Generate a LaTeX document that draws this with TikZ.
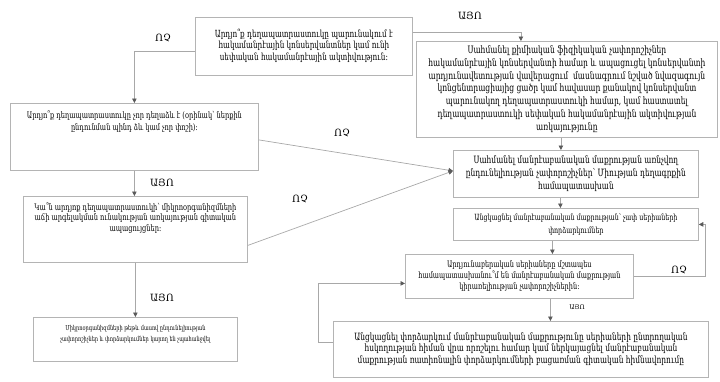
\documentclass[tikz,border=0pt]{standalone}
\usepackage{fontspec}
\usepackage{graphicx}
\setmainfont{DejaVu Serif}
\newfontfamily\armfont[FakeStretch=0.74]{DejaVu Serif}
\newfontfamily\labfont{DejaVu Serif}
\usetikzlibrary{arrows.meta}
\definecolor{boxgray}{HTML}{B4B4B4}
\definecolor{linegray}{HTML}{A8A8A8}
\definecolor{arrowgray}{HTML}{5A5A5A}
\tikzset{
  box/.style={draw=boxgray, line width=0.8pt, anchor=north west, inner sep=0pt, font=\armfont},
  conn/.style={draw=linegray, line width=0.7pt, -{Triangle[length=4.5pt,width=4.5pt,color=arrowgray]}},
  lab/.style={font=\labfont\fontsize{10}{12}\selectfont, inner sep=0pt},
}
% \fitw{width}{baselineskip}{lines}
\newcommand{\fitw}[3]{\resizebox{#1}{!}{\fontsize{10}{#2}\selectfont\begin{tabular}{@{}c@{}}#3\end{tabular}}}
% \tbox{width}{height}{top pad}{content}
\newcommand{\tbox}[4]{\parbox[c][#2][t]{#1}{\centering\vspace*{#3}#4\par}}
\begin{document}
\begin{tikzpicture}[x=1pt,y=-1pt]
\useasboundingbox (0,0) rectangle (720,381);
% boxes
\node[box, minimum width=217pt, minimum height=58pt] (b1) at (195,17)
  {\fitw{178pt}{11.5pt}{Արդյո՞ք դեղապատրաստուկը պարունակում է\\ հակամանրէային կոնսերվանտներ կամ ունի\\ սեփական հակամանրէային ակտիվություն:}};
\node[box, minimum width=301pt, minimum height=96pt] (b3) at (416,41)
  {\fitw{277pt}{12.5pt}{Սահմանել քիմիական ֆիզիկական չափորոշիչներ\\ հակամանրէային կոնսերվանտի համար և ապացուցել կոնսերվանտի\\ արդյունավետության վավերացում\ \ մասնագրում նշված նվազագույն\\ կոնցենտրացիայից ցածր կամ հավասար քանակով կոնսերվանտ\\ պարունակող դեղապատրաստուկի համար, կամ հաստատել\\ դեղապատրաստուկի սեփական հակամանրէային ակտիվության\\ առկայությունը}};
\node[box] (b2) at (10,103)
  {\tbox{248pt}{67pt}{7pt}{\fitw{215pt}{13pt}{Արդյո՞ք դեղապատրաստուկը չոր դեղաձև է (օրինակ՝ ներքին\\ ընդունման պինդ ձև կամ չոր փոշի):}}};
\node[box, minimum width=245pt, minimum height=47pt] (b4) at (453,150)
  {\fitw{220pt}{13pt}{Սահմանել մանրէաբանական մաքրության առնչվող\\ ընդունելիության չափորոշիչներ՝ Միության դեղագրքին\\ համապատասխան}};
\node[box, minimum width=245pt, minimum height=32pt] (b5) at (453,208)
  {\fitw{203pt}{15.7pt}{Անցկացնել մանրէաբանական մաքրության՝ չափ սերիաների\\ փորձարկումներ}};
\node[box] (b7) at (23,196)
  {\tbox{224pt}{66pt}{6pt}{\fitw{202pt}{12pt}{Կա՞ն արդյոք դեղապատրաստուկի՝ միկրոօրգանիզմների\\ աճի արգելակման ունակության առկայության գիտական\\ ապացույցներ:}}};
\node[box, minimum width=228pt, minimum height=44pt] (b6) at (405,254)
  {\fitw{202pt}{12.4pt}{Արդյունաբերական սերիաները մշտապես\\ համապատասխանու՞մ են մանրէաբանական մաքրության\\ կիրառելիության չափորոշիչներին:}};
\node[box] (b9) at (33,317)
  {\tbox{204pt}{44pt}{5pt}{\fitw{150pt}{16.4pt}{Միկրոօրգանիզմների թեթև մասով ընդունելիության\\ չափորոշիչներ և փորձարկումներ կարող են չպահանջվել}}};
\node[box, minimum width=375pt, minimum height=56pt] (b8) at (333,321)
  {\fitw{333pt}{11.4pt}{Անցկացնել փորձարկում մանրէաբանական մաքրությունը սերիաների ընտրողական\\ հսկողության հիման վրա որոշելու համար կամ ներկայացնել մանրէաբանական\\ մաքրության ռատիոնալին փորձարկումների բացառման գիտական հիմնավորումը}};
% connectors
\draw[conn] ([yshift=-5pt]b1.west) -| (b2.north);
\draw[conn] ([yshift=14pt]b1.east) -| ([xshift=-46pt]b3.north);
\draw[conn] ([xshift=-6pt]b3.south) -- ([xshift=-6pt]b3.south |- b4.north);
\draw[conn] ([yshift=-3pt]b2.east) -- ([yshift=3pt]b4.west);
\draw[conn] ([yshift=-16pt]b7.east) -- ([yshift=3pt]b4.west);
\draw[conn] ([xshift=-15.5pt]b4.south) -- ([xshift=-15.5pt]b4.south |- b5.north);
\draw[conn] ([xshift=-23.5pt]b5.south) -- ([xshift=-23.5pt]b5.south |- b6.north);
\draw[conn] (b6.east) -- ++(72pt,0) |- (b5.east);
\draw[conn] ([xshift=31pt]b6.south) -- ([xshift=31pt]b6.south |- b8.north);
\draw[conn] ([yshift=7pt]b8.west) -- ++(-15pt,0) |- ([yshift=-7pt]b6.west);
\draw[conn] (b2.south) -- (b2.south |- b7.north);
\draw[conn] (b7.south) -- (b7.south |- b9.north);
% labels
\node[lab] (l1) at (163,38) {ՈՉ};
\node[lab] (l2) at (470,16) {ԱՅՈ};
\node[lab] (l3) at (342,133) {ՈՉ};
\node[lab] (l4) at (300,199) {ՈՉ};
\node[lab] (l5) at (162,183) {ԱՅՈ};
\node[lab] (l6) at (162,298) {ԱՅՈ};
\node[lab] (l7) at (679,270) {ՈՉ};
\node[lab, font=\labfont\fontsize{6.5}{8}\selectfont] (l8) at (577,307) {ԱՅՈ};
\end{tikzpicture}
\end{document}
